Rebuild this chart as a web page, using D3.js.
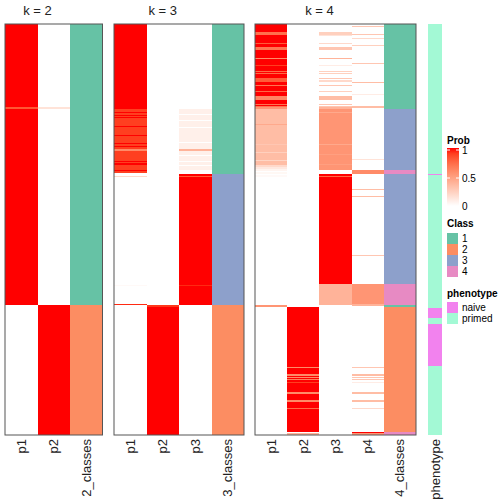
<!DOCTYPE html>
<html><head><meta charset="utf-8">
<script src="https://cdn.jsdelivr.net/npm/d3@7"></script>
<style>body{margin:0;background:#fff}svg{display:block}text{font-family:"Liberation Sans",Arial,sans-serif}</style>
</head><body>
<script>
// ---- data: rows are samples (0..N), runs are [startRow, endRow, value] ----
const nSamples = 411;
const k2Columns = ["p1","p2","2_classes"];
const k3Columns = ["p1","p2","p3","3_classes"];
const k4Columns = ["p1","p2","p3","p4","4_classes"];

const k2_p1 = [[0,83,1],[83,85,0.82],[85,281,1]];
const k2_p2 = [[83,85,0.15],[281,411,1]];
const k2_class = [[0,281,1],[281,411,2]];

const k3_p1 = [[0,85,1],[85,149,0.9],[88,89,1],[91,92,1],[93,94,1],[102,103,1],[111,112,1],[119,120,1],[122,123,1],[125,127,0.6],[137,138,1],[139,141,1],[146,147,1],[152,153,0.2],[261,262,0.03],[280,281,0.95]];
const k3_p2 = [[281,283,0.92],[283,411,1]];
const k3_p3 = [[85,146,0.08],[90,91,0],[96,97,0],[103,104,0],[118,119,0],[125,127,0.4],[131,132,0],[137,138,0],[141,142,0],[150,281,1],[152,153,0.8],[261,262,0.95]];
const k3_class = [[0,150,1],[150,281,3],[281,411,2]];

const k4_p1 = [[0,8,1],[8,11,0.72],[11,19,1],[19,20,0.8],[20,23,1],[23,26,0.7],[26,34,1],[34,35,0.6],[35,41,1],[41,42,0.9],[42,47,1],[47,48,0.75],[48,49,1],[49,50,0.75],[50,54,1],[54,58,0.8],[58,61,1],[61,62,0.7],[62,67,1],[67,68,0.75],[68,72,1],[72,76,0.62],[76,80,1],[80,81,0.7],[81,82,1],[82,83,0.7],[83,85,0.55],[85,141,0.35],[100,101,0.45],[120,121,0.3],[128,129,0.25],[136,137,0.22],[141,143,0.2],[143,145,0.12],[145,147,0.06],[148,150,0.04],[151,153,0.03],[281,283,0.55]];
const k4_p2 = [[283,408,1],[343,344,0.6],[350,352,0.6],[353,354,0.6],[355,356,0.65],[358,359,0.9],[368,370,0.6],[376,378,0.6],[384,385,0.75],[409,411,0.4]];
const k4_p3 = [[8,11,0.25],[11,12,0.15],[19,20,0.2],[23,26,0.3],[34,35,0.4],[41,42,0.1],[47,48,0.25],[49,50,0.25],[54,55,0.3],[56,58,0.2],[61,62,0.3],[67,68,0.25],[72,76,0.35],[80,81,0.3],[82,83,0.3],[83,85,0.4],[85,146,0.55],[88,89,0.45],[120,121,0.45],[130,131,0.5],[140,141,0.5],[150,260,1],[152,153,0.75],[260,281,0.4]];
const k4_p4 = [[2,3,0.3],[10,11,0.3],[14,15,0.2],[21,22,0.25],[39,40,0.3],[58,59,0.35],[70,71,0.1],[82,84,0.35],[135,136,0.15],[146,150,0.6],[165,166,0.35],[172,173,0.35],[231,232,0.3],[260,280,0.55],[280,282,0.4],[343,344,0.3],[350,352,0.35],[353,354,0.3],[355,356,0.3],[358,359,0.1],[368,370,0.35],[376,378,0.35],[384,385,0.2],[408,409,1],[409,411,0.55]];
const k4_class = [[0,85,1],[85,146,3],[146,150,4],[150,260,3],[260,281,4],[281,283,1],[283,408,2],[408,411,4]];

const phenotypeRuns = [[0,150,"primed"],[150,151,"naive"],[151,284,"primed"],[284,294,"naive"],[294,300,"primed"],[300,342,"naive"],[342,411,"primed"]];

const classLevels = ["1","2","3","4"];
const classColors = ["#66C2A5","#FC8D62","#8DA0CB","#E78AC3"];
const phenoLevels = ["naive","primed"];
const phenoColors = ["#F282EE","#A3F9D5"];
const probTicks = [0, 0.5, 1];

// ---- drawing ----
const svg = d3.select("body").append("svg").attr("width",504).attr("height",504);
const y = d3.scaleLinear().domain([0,nSamples]).range([24,435]);
const prob = d3.scaleLinear().domain([0,1]).range(["#ffffff","#ff0000"]).interpolate(d3.interpolateLab);
const classColor = d3.scaleOrdinal(classLevels, classColors);
const phenoColor = d3.scaleOrdinal(phenoLevels, phenoColors);

const panels = [
  {title:"k = 2", cols:k2Columns, data:[k2_p1,k2_p2,k2_class], x0:5, x1:102.5},
  {title:"k = 3", cols:k3Columns, data:[k3_p1,k3_p2,k3_p3,k3_class], x0:114, x1:244},
  {title:"k = 4", cols:k4Columns, data:[k4_p1,k4_p2,k4_p3,k4_p4,k4_class], x0:255, x1:416}
];

panels.forEach(p => {
  const x = d3.scaleBand().domain(p.cols).range([p.x0,p.x1]);
  const g = svg.append("g").attr("shape-rendering","crispEdges");
  g.append("rect").attr("x",p.x0).attr("y",y(0)).attr("width",p.x1-p.x0).attr("height",y(nSamples)-y(0)).attr("fill","#fff");
  p.cols.forEach((c,i) => {
    const isClass = i === p.cols.length-1;
    g.selectAll(null).data(p.data[i]).join("rect")
      .attr("x",x(c)).attr("width",x.bandwidth())
      .attr("y",d=>y(d[0])).attr("height",d=>y(d[1])-y(d[0]))
      .attr("fill",d=> isClass ? classColor(String(d[2])) : prob(d[2]));
  });
  svg.append("rect").attr("x",p.x0).attr("y",y(0)).attr("width",p.x1-p.x0).attr("height",y(nSamples)-y(0))
    .attr("fill","none").attr("stroke","#555").attr("stroke-width",1);
  const probCols = p.cols.slice(0,-1);
  const tx = (x(probCols[0]) + x(probCols[probCols.length-1]) + x.bandwidth())/2;
  svg.append("text").attr("x",tx).attr("y",15).attr("text-anchor","middle").attr("font-size",13).attr("fill","#222").text(p.title);
  p.cols.forEach(c => {
    svg.append("text").attr("transform",`translate(${x(c)+x.bandwidth()/2},439) rotate(-90)`)
      .attr("text-anchor","end").attr("dy","0.35em").attr("font-size",13).attr("fill","#222").text(c);
  });
});

// phenotype annotation
const px0 = 428, px1 = 442;
svg.append("g").attr("shape-rendering","crispEdges").selectAll("rect").data(phenotypeRuns).join("rect")
  .attr("x",px0).attr("width",px1-px0).attr("y",d=>y(d[0])).attr("height",d=>y(d[1])-y(d[0]))
  .attr("fill",d=>phenoColor(d[2]));
svg.append("text").attr("transform",`translate(${(px0+px1)/2},439) rotate(-90)`)
  .attr("text-anchor","end").attr("dy","0.35em").attr("font-size",13).attr("fill","#222").text("phenotype");

// legends
const lx = 447;
svg.append("text").attr("x",lx).attr("y",144).attr("font-size",10).attr("font-weight","bold").text("Prob");
const defs = svg.append("defs");
const grad = defs.append("linearGradient").attr("id","pg").attr("x1",0).attr("x2",0).attr("y1",1).attr("y2",0);
d3.range(0,1.0001,0.1).forEach(t => grad.append("stop").attr("offset",t).attr("stop-color",prob(t)));
const ly = d3.scaleLinear().domain([0,1]).range([206,150]);
svg.append("rect").attr("x",lx).attr("y",148).attr("width",12).attr("height",58).attr("fill","url(#pg)");
probTicks.forEach(t => {
  if (t > 0) {
    svg.append("line").attr("x1",lx).attr("x2",lx+3).attr("y1",ly(t)).attr("y2",ly(t)).attr("stroke","#fff");
    svg.append("line").attr("x1",lx+9).attr("x2",lx+12).attr("y1",ly(t)).attr("y2",ly(t)).attr("stroke","#fff");
  }
  svg.append("text").attr("x",lx+15).attr("y",ly(t)).attr("dy","0.35em").attr("font-size",10).text(t===0.5?"0.5":String(t));
});

svg.append("text").attr("x",lx).attr("y",227).attr("font-size",10).attr("font-weight","bold").text("Class");
classLevels.forEach((c,i) => {
  svg.append("rect").attr("x",lx).attr("y",233+i*11).attr("width",11).attr("height",11).attr("fill",classColor(c));
  svg.append("text").attr("x",lx+15).attr("y",233+i*11+5.5).attr("dy","0.35em").attr("font-size",10).text(c);
});
svg.append("text").attr("x",lx).attr("y",297).attr("font-size",10).attr("font-weight","bold").text("phenotype");
phenoLevels.forEach((c,i) => {
  svg.append("rect").attr("x",lx).attr("y",302+i*11).attr("width",11).attr("height",11).attr("fill",phenoColor(c));
  svg.append("text").attr("x",lx+15).attr("y",302+i*11+5.5).attr("dy","0.35em").attr("font-size",10).text(c);
});
</script>
</body></html>
